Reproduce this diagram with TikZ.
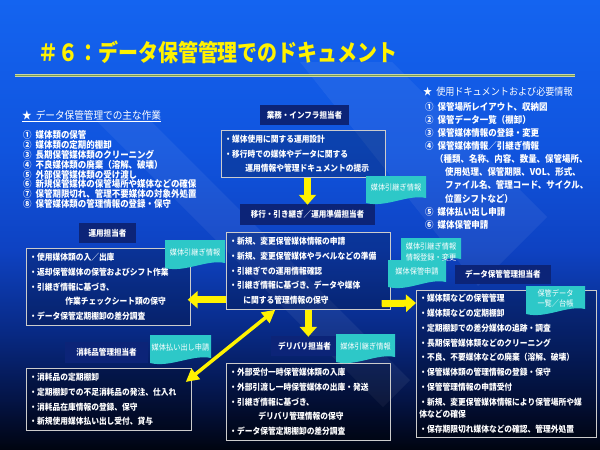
\documentclass[tikz,border=0pt]{standalone}
\usepackage{fontspec}
\setmainfont[FakeStretch=0.9]{Noto Sans CJK JP}
\newfontfamily\titlejp[FakeStretch=0.85]{Noto Sans CJK JP}
\usetikzlibrary{arrows.meta}

\definecolor{bgtop}{RGB}{20,100,240}
\definecolor{bgupper}{RGB}{16,84,222}
\definecolor{bghi}{RGB}{14,66,194}
\definecolor{bgmid}{RGB}{8,42,134}
\definecolor{bglow}{RGB}{4,20,70}
\definecolor{bgbot}{RGB}{0,4,16}
\definecolor{noteteal}{RGB}{45,200,200}
\definecolor{rolefill}{RGB}{12,36,120}
\definecolor{rulepale}{RGB}{205,215,160}
\definecolor{rulegreen}{RGB}{120,160,80}

\pgfdeclareverticalshading{slidebg}{100bp}{color(0bp)=(bgbot); color(25bp)=(bgbot); color(30.6bp)=(bglow); color(38.3bp)=(bgmid); color(47.2bp)=(bghi); color(58.3bp)=(bgupper); color(75bp)=(bgtop); color(100bp)=(bgtop)}

\newcommand{\boxfont}{\fontsize{8.6}{14.8}\selectfont\bfseries}
\newcommand{\rolefont}{\fontsize{8.4}{10}\selectfont\bfseries}
\newcommand{\listfont}{\fontsize{9.4}{9.8}\selectfont\bfseries}
\newcommand{\rlistfont}{\fontsize{9.4}{13.1}\selectfont\bfseries}
\newcommand{\headfont}{\fontsize{10.7}{12}\selectfont}
\newcommand{\rheadfont}{\fontsize{10.1}{12}\selectfont}
\newcommand{\notefont}{\fontsize{8}{10.5}\selectfont}

\begin{document}
\begin{tikzpicture}[x=1pt, y=-1pt,
  rolebox/.style={draw=gray!20, double=rolefill, double distance=1.3pt, line width=0.5pt, fill=rolefill, text=white, font=\rolefont, inner sep=0pt},
  taskbox/.style={draw=gray!40, line width=0.7pt, fill=black, fill opacity=0.22, text opacity=1, text=white, font=\boxfont, anchor=north west, align=left, inner xsep=3pt, inner ysep=0pt},
  docnote/.style={inner sep=0pt, text=white, font=\notefont, align=center, text depth=6pt,
    path picture={\fill[noteteal] (path picture bounding box.north west) -- (path picture bounding box.north east)
      -- ([yshift=7pt]path picture bounding box.south east)
      .. controls ([xshift=-18pt,yshift=11pt]path picture bounding box.south east) and ([xshift=20pt,yshift=-3pt]path picture bounding box.south west)
      .. ([yshift=2pt]path picture bounding box.south west) -- cycle;}},
  bigarrow/.style={draw=yellow, line width=7pt, -{Triangle[length=10pt,width=17pt]}},
  dblarrow/.style={draw=yellow, line width=3.5pt, {Triangle[length=13pt,width=13pt]}-{Triangle[length=13pt,width=13pt]}},
  band/.style={fill=white, fill opacity=0.06}]

  \shade[shading=slidebg] (0,0) rectangle (600,450);
  \fill[band] (96,120) -- (150,120) -- (410,380) -- (383,407) -- cycle;
  \fill[band] (300,62) -- (392,62) -- (547,217) -- (478,286) -- cycle;

  \node[anchor=west, inner sep=0pt, text=yellow, font=\titlejp\fontsize{23.5}{26}\selectfont\bfseries] (title) at (38,52) {＃６：データ保管管理でのドキュメント};
  \coordinate (rulel) at (15,75.5);
  \coordinate (ruler) at (575,75.5);
  \draw[rulepale, line width=3.6pt] (rulel) -- (ruler);
  \draw[rulegreen, line width=1.2pt] (rulel) -- (ruler);

  \node[anchor=west, inner sep=0pt, text=white, font=\headfont] (tasktitle) at (22,115) {★\hspace{4pt}データ保管管理での主な作業};
  \draw[white, line width=0.6pt] ([yshift=-1pt]tasktitle.south west) -- ([yshift=-1pt]tasktitle.south east);
  \node[anchor=north west, inner sep=0pt, text=white, font=\listfont, align=left] (tasklist) at (23,130.5) {①\hspace{4pt}媒体類の保管\\ ②\hspace{4pt}媒体類の定期的棚卸\\ ③\hspace{4pt}長期保管媒体類のクリーニング\\ ④\hspace{4pt}不良媒体類の廃棄（溶解、破壊）\\ ⑤\hspace{4pt}外部保管媒体類の受け渡し\\ ⑥\hspace{4pt}新規保管媒体の保管場所や媒体などの確保\\ ⑦\hspace{4pt}保管期限切れ、管理不要媒体の対象外処置\\ ⑧\hspace{4pt}保管媒体類の管理情報の登録・保守};

  \node[anchor=west, inner sep=0pt, text=white, font=\rheadfont] (doctitle) at (423,92) {★\hspace{4pt}使用ドキュメントおよび必要情報};
  \node[anchor=north west, inner sep=0pt, text=white, font=\rlistfont, align=left] (doclist) at (425,102) {①\hspace{4pt}保管場所レイアウト、収納図\\ ②\hspace{4pt}保管データ一覧（棚卸）\\ ③\hspace{4pt}保管媒体情報の登録・変更\\ ④\hspace{4pt}保管媒体情報／引継ぎ情報\\ \hspace*{10pt}（種類、名称、内容、数量、保管場所、\\ \hspace*{20pt}使用処理、保管期限、VOL、形式、\\ \hspace*{20pt}ファイル名、管理コード、サイクル、\\ \hspace*{20pt}位置シフトなど）\\ ⑤\hspace{4pt}媒体払い出し申請\\ ⑥\hspace{4pt}媒体保管申請};

  \node[rolebox, minimum width=87pt, minimum height=18pt] (infra) at (304.5,115) {業務・インフラ担当者};
  \node[taskbox, minimum width=164pt, minimum height=47pt, text width=158pt] (design) at (221,130) {・媒体使用に関する運用設計\\ ・移行時での媒体やデータに関する\\ \hspace*{21pt}運用情報や管理ドキュメントの提示};
  \node[rolebox, minimum width=133pt, minimum height=19pt] (handover) at (307.5,214.5) {移行・引き継ぎ／運用準備担当者};
  \node[taskbox, minimum width=164pt, minimum height=77pt, text width=158pt] (prep) at (226,232) {・新規、変更保管媒体情報の申請\\ ・新規、変更保管媒体やラベルなどの準備\\ ・引継ぎでの運用情報確認\\ ・引継ぎ情報に基づき、データや媒体\\ \hspace*{14pt}に関する管理情報の保守};
  \node[rolebox, minimum width=55pt, minimum height=18pt] (ops) at (107.5,233) {運用担当者};
  \node[taskbox, minimum width=164pt, minimum height=77pt, text width=158pt] (opstasks) at (26,248) {・使用媒体類の入／出庫\\ ・返却保管媒体の保管およびシフト作業\\ ・引継ぎ情報に基づき、\\ \hspace*{36pt}作業チェックシート類の保守\\ ・データ保管定期棚卸の差分調査};
  \node[rolebox, minimum width=81pt, minimum height=19pt] (supply) at (106.5,352.5) {消耗品管理担当者};
  \node[taskbox, minimum width=165pt, minimum height=62pt, text width=159pt] (supplytasks) at (26,368) {・消耗品の定期棚卸\\ ・定期棚卸での不足消耗品の発注、仕入れ\\ ・消耗品在庫情報の登録、保守\\ ・新規使用媒体払い出し受付、貸与};
  \node[rolebox, minimum width=65pt, minimum height=18pt] (delivery) at (304.5,346) {デリバリ担当者};
  \node[taskbox, minimum width=164pt, minimum height=77pt, text width=158pt] (deliverytasks) at (226,363) {・外部受付一時保管媒体類の入庫\\ ・外部引渡し一時保管媒体の出庫・発送\\ ・引継ぎ情報に基づき、\\ \hspace*{29pt}デリバリ管理情報の保守\\ ・データ保管定期棚卸の差分調査};
  \node[rolebox, minimum width=94pt, minimum height=17pt] (keeper) at (503,274.5) {データ保管管理担当者};
  \node[taskbox, minimum width=180pt, minimum height=147pt, text width=174pt] (keepertasks) at (416,290) {・媒体類などの保管管理\\ ・媒体類などの定期棚卸\\ ・定期棚卸での差分媒体の追跡・調査\\ ・長期保管媒体類などのクリーニング\\ ・不良、不要媒体などの廃棄（溶解、破壊）\\ ・保管媒体類の管理情報の登録・保守\\ ・保管管理情報の申請受付\\ ・新規、変更保管媒体情報により保管場所や媒\\[-2.5pt] 体などの確保\\ ・保存期限切れ媒体などの確認、管理外処置};

  \node[docnote, minimum width=60pt, minimum height=29pt] (hdoc1) at (396,190.5) {媒体引継ぎ情報};
  \node[docnote, minimum width=60pt, minimum height=30pt] (hdoc2) at (195,255) {媒体引継ぎ情報};
  \node[docnote, minimum width=58pt, minimum height=29pt] (reqdoc) at (417,274.5) {媒体保管申請};
  \node[docnote, minimum width=60pt, minimum height=28pt, text depth=1pt] (regdoc) at (431,252) {媒体引継ぎ情報\\情報登録・変更};
  \node[docnote, minimum width=59pt, minimum height=30pt] (listdoc) at (555.5,301) {保管データ\\一覧／台帳};
  \node[docnote, minimum width=61pt, minimum height=30pt] (issuedoc) at (180.5,350) {媒体払い出し申請};
  \node[docnote, minimum width=59pt, minimum height=30pt] (hdoc3) at (365.5,349) {媒体引継ぎ情報};

  \draw[bigarrow] (handover.north |- design.south) -- (handover.north);
  \draw[bigarrow] ([yshift=10pt]prep.south west) -- ([xshift=-3pt,yshift=26pt]opstasks.south east);
  \draw[bigarrow] ([xshift=-9pt,yshift=6pt]prep.south east) -- ([yshift=-13pt]keepertasks.north west);
  \draw[bigarrow] (prep.south) -- (prep.south |- delivery.north);
  \draw[dblarrow] ([xshift=-33pt]prep.south) -- ([xshift=-6pt,yshift=-14pt]supplytasks.north east);
\end{tikzpicture}
\end{document}
